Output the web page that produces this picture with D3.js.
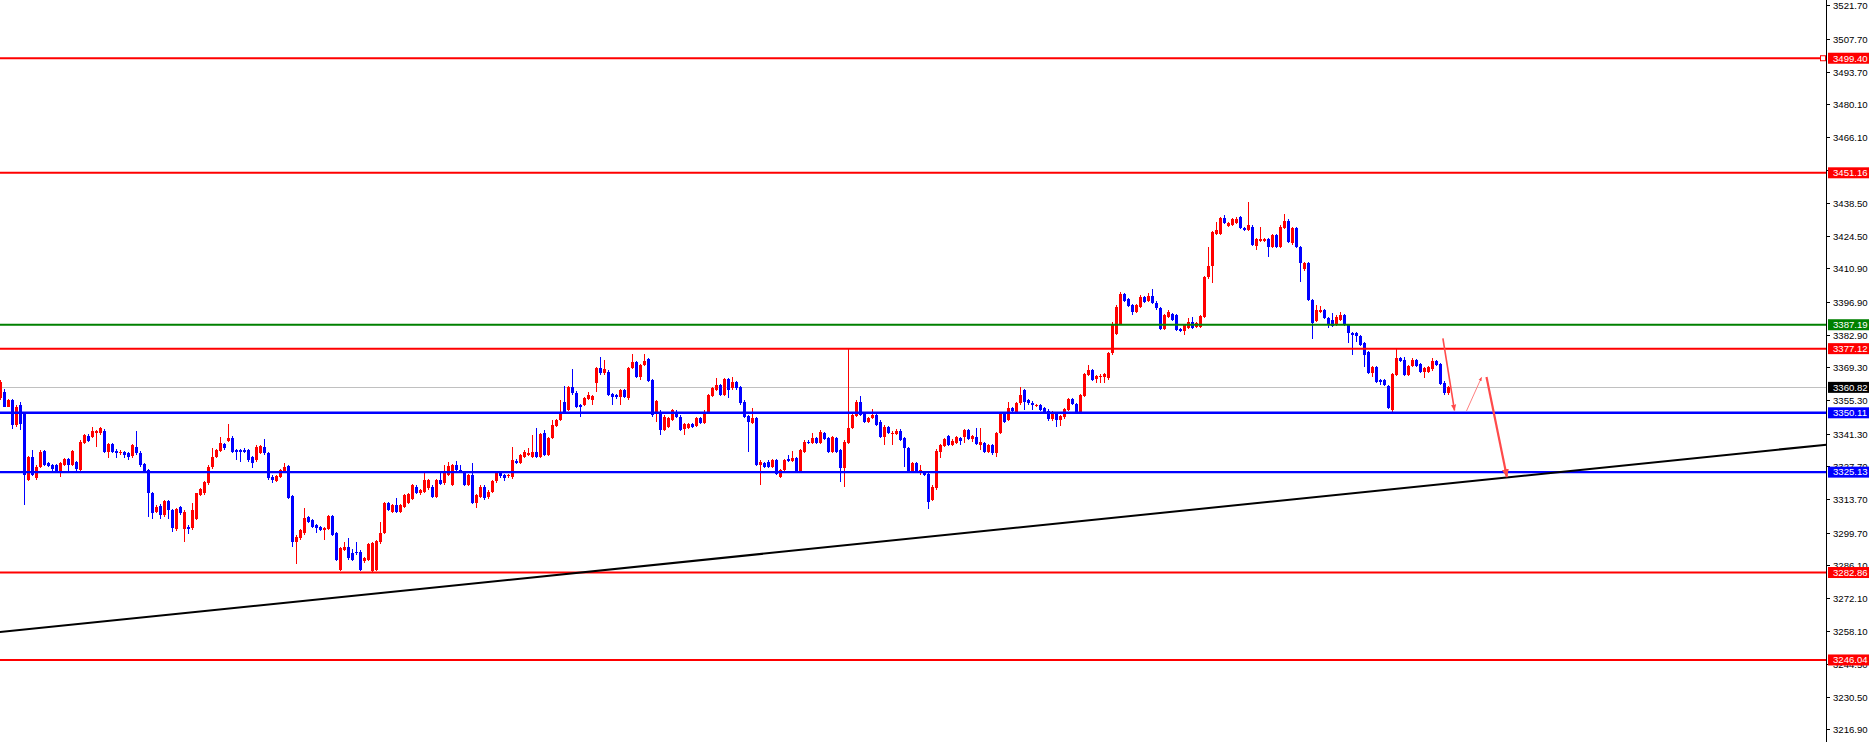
<!DOCTYPE html>
<html><head><meta charset="utf-8">
<script src="https://cdn.jsdelivr.net/npm/d3@7"></script>
<style>html,body{margin:0;padding:0;background:#fff;overflow:hidden}</style>
</head><body>
<svg id="chart" width="1869" height="742"></svg>
<script>
// ---- data (price, one value per bar) ----
const opens=[
3356.2,3359.0,3352.7,3355.5,3344.9,3353.4,3349.9,3321.8,3331.3,3322.5,
3327.4,3334.0,3328.8,3328.1,3328.1,3325.3,3328.1,3330.5,3328.1,3329.5,
3326.0,3337.5,3340.5,3340.0,3341.7,3341.4,3342.6,3333.7,3336.9,3334.2,
3333.0,3333.7,3333.0,3331.9,3335.8,3333.3,3328.5,3326.0,3316.2,3308.5,
3310.9,3307.1,3312.9,3309.2,3301.0,3310.6,3301.0,3302.1,3301.4,3305.6,
3315.5,3316.2,3320.4,3327.1,3331.6,3334.0,3336.9,3338.3,3339.6,3334.4,
3334.4,3334.4,3334.4,3331.6,3330.2,3333.3,3335.8,3333.0,3323.2,3321.5,
3323.2,3325.3,3327.7,3315.1,3295.8,3297.2,3299.3,3306.3,3305.0,3302.8,
3301.9,3300.8,3301.1,3306.7,3299.5,3284.0,3292.4,3293.8,3291.0,3291.7,
3291.7,3287.5,3288.1,3283.3,3284.0,3295.5,3299.7,3312.0,3308.5,3311.3,
3308.5,3310.6,3312.0,3313.7,3319.0,3316.2,3316.9,3318.3,3319.0,3314.8,
3321.9,3320.4,3324.0,3319.7,3328.2,3326.1,3324.7,3319.7,3324.0,3312.0,
3314.8,3319.0,3314.5,3316.9,3321.2,3324.7,3324.0,3323.3,3322.9,3330.0,
3329.1,3331.7,3332.4,3331.7,3333.8,3331.4,3341.5,3332.4,3339.4,3344.6,
3347.1,3354.8,3351.3,3360.8,3358.6,3353.4,3353.4,3355.8,3355.5,3362.5,
3368.8,3366.7,3367.1,3358.0,3357.6,3356.9,3359.7,3356.2,3368.9,3371.6,
3365.3,3370.3,3372.6,3363.9,3350.6,3350.6,3342.9,3344.3,3347.1,3350.6,
3348.5,3343.1,3343.6,3345.4,3344.6,3347.8,3345.7,3350.6,3357.2,3359.7,
3361.8,3357.6,3364.2,3360.4,3363.2,3361.1,3354.8,3348.8,3345.7,3347.8,
3328.1,3329.1,3329.6,3327.4,3330.2,3323.2,3326.0,3330.5,3330.0,3331.0,
3325.4,3333.8,3338.0,3337.3,3339.4,3337.3,3341.5,3339.4,3333.8,3339.4,
3334.5,3326.8,3337.3,3343.6,3348.8,3354.8,3349.9,3346.4,3347.8,3349.2,
3346.4,3339.8,3344.0,3341.2,3341.2,3342.6,3339.4,3335.2,3325.4,3328.8,
3324.6,3325.3,3324.4,3313.4,3318.3,3333.8,3336.2,3340.3,3336.5,3337.5,
3339.4,3339.8,3342.9,3339.0,3340.0,3336.5,3337.5,3333.8,3336.5,3333.0,
3341.5,3349.9,3347.0,3352.2,3350.6,3354.1,3359.7,3355.5,3354.4,3353.0,
3353.4,3352.0,3351.0,3347.3,3349.9,3347.0,3348.2,3351.3,3355.8,3353.8,
3349.9,3357.2,3366.0,3368.1,3364.2,3365.0,3365.3,3364.6,3375.1,3383.3,
3387.7,3400.1,3397.9,3395.5,3392.7,3394.8,3398.7,3397.3,3399.3,3396.5,
3394.3,3385.6,3390.6,3391.7,3391.3,3385.2,3384.7,3385.7,3388.5,3386.4,
3386.4,3390.6,3407.1,3411.9,3425.6,3425.6,3432.0,3428.8,3429.2,3430.2,
3432.4,3428.0,3427.0,3428.5,3420.3,3422.6,3422.6,3423.1,3420.0,3424.9,
3420.0,3427.8,3431.0,3421.4,3427.8,3420.0,3410.5,3413.0,3397.6,3388.9,
3392.7,3393.4,3389.9,3389.2,3387.1,3389.2,3391.3,3387.1,3383.8,3383.6,
3382.4,3379.4,3375.8,3367.0,3369.5,3363.9,3363.9,3361.4,3351.3,3366.0,
3373.0,3372.3,3366.0,3369.8,3372.3,3370.5,3367.4,3367.4,3368.4,3371.9,
3370.7,3362.8,3358.3];
const highs=[
3363.9,3360.0,3355.8,3356.0,3353.4,3354.5,3350.6,3331.9,3334.4,3328.0,
3334.4,3334.4,3329.5,3328.6,3328.6,3329.2,3331.0,3331.0,3334.6,3330.0,
3338.5,3341.3,3341.0,3344.2,3343.0,3344.2,3343.4,3337.5,3337.5,3334.9,
3334.4,3334.2,3333.5,3337.0,3342.4,3333.9,3329.0,3326.5,3316.9,3311.2,
3311.5,3313.5,3313.6,3309.8,3310.0,3311.0,3309.0,3302.7,3312.0,3316.5,
3318.4,3321.6,3328.0,3335.1,3335.0,3340.0,3337.5,3345.6,3340.2,3335.0,
3335.0,3335.1,3335.0,3332.0,3336.4,3336.6,3339.0,3333.5,3323.8,3324.0,
3326.5,3329.1,3328.2,3315.5,3298.5,3301.3,3310.2,3306.8,3305.5,3303.3,
3302.4,3302.0,3307.2,3307.2,3300.0,3293.6,3295.9,3297.2,3292.6,3295.9,
3292.2,3289.3,3295.4,3295.7,3296.7,3304.3,3312.5,3312.5,3311.8,3314.1,
3311.8,3316.0,3316.4,3320.2,3319.5,3318.1,3325.8,3322.4,3319.5,3322.4,
3324.7,3328.2,3329.6,3328.7,3329.9,3328.2,3325.2,3324.5,3328.9,3316.0,
3319.5,3319.5,3317.4,3321.7,3325.4,3325.2,3324.5,3324.5,3335.6,3330.5,
3332.9,3334.3,3335.2,3340.8,3343.6,3341.7,3342.9,3339.9,3347.1,3347.6,
3355.5,3361.4,3361.3,3368.4,3359.1,3353.9,3356.7,3359.0,3357.7,3369.3,
3373.5,3372.3,3368.2,3358.5,3358.1,3360.2,3360.2,3369.4,3374.9,3372.1,
3370.8,3374.9,3373.1,3364.4,3355.6,3351.1,3349.0,3348.3,3351.8,3351.3,
3349.0,3345.9,3345.9,3345.9,3348.3,3348.3,3351.1,3358.1,3360.9,3364.6,
3362.3,3364.7,3364.7,3365.3,3363.7,3361.6,3355.3,3349.3,3352.0,3348.3,
3330.1,3329.6,3330.1,3330.7,3330.7,3326.5,3330.7,3332.4,3334.1,3331.5,
3335.0,3338.5,3338.5,3341.5,3339.9,3342.7,3342.0,3339.9,3340.3,3339.9,
3335.0,3338.5,3377.0,3349.7,3355.3,3357.2,3350.4,3348.3,3351.6,3349.7,
3346.9,3344.8,3344.5,3342.3,3343.1,3343.1,3339.9,3335.7,3329.3,3329.3,
3328.1,3325.8,3324.9,3319.5,3334.7,3337.0,3339.4,3340.8,3338.9,3340.3,
3339.9,3343.4,3343.4,3340.8,3343.6,3343.6,3338.0,3337.0,3337.0,3342.2,
3350.4,3350.4,3354.8,3352.7,3354.6,3361.1,3360.2,3356.0,3354.9,3354.0,
3353.9,3352.5,3351.5,3350.7,3350.4,3349.2,3352.0,3356.3,3356.3,3354.3,
3358.1,3366.8,3370.2,3368.6,3366.2,3366.5,3367.0,3375.6,3388.2,3395.3,
3401.1,3400.6,3398.4,3396.0,3396.0,3399.5,3399.2,3400.4,3402.1,3397.0,
3394.8,3391.8,3393.4,3392.2,3391.8,3385.7,3387.6,3389.9,3390.6,3388.5,
3391.4,3407.9,3420.0,3426.8,3430.6,3432.5,3433.4,3430.4,3432.1,3432.7,
3432.9,3428.5,3438.7,3429.0,3423.6,3428.2,3423.6,3423.6,3425.4,3425.4,
3429.0,3433.8,3431.5,3428.3,3428.3,3420.5,3413.8,3413.5,3398.1,3395.5,
3395.1,3393.9,3390.4,3392.0,3391.1,3392.7,3391.8,3387.6,3384.3,3384.1,
3382.9,3379.9,3376.3,3370.0,3370.0,3364.4,3364.4,3361.9,3366.9,3376.8,
3373.5,3373.7,3370.3,3373.0,3372.8,3371.0,3369.3,3370.0,3373.0,3372.4,
3371.2,3363.3,3361.3];
const lows=[
3355.5,3352.4,3352.4,3343.1,3344.0,3342.8,3311.3,3321.5,3323.5,3321.8,
3327.0,3327.6,3327.4,3325.8,3325.0,3323.2,3327.6,3325.3,3327.6,3325.8,
3325.3,3337.0,3337.8,3339.5,3335.8,3340.8,3333.0,3330.9,3333.0,3330.9,
3332.5,3330.9,3330.2,3331.2,3332.3,3327.4,3324.6,3306.1,3305.4,3307.8,
3305.6,3306.4,3305.6,3300.0,3300.3,3307.0,3295.8,3299.0,3300.7,3305.0,
3315.0,3315.5,3319.8,3326.5,3331.0,3333.5,3334.5,3337.8,3333.0,3330.2,
3329.5,3333.0,3329.6,3326.7,3329.6,3332.8,3332.4,3321.8,3320.4,3321.0,
3322.6,3324.8,3313.8,3293.7,3286.3,3296.6,3298.8,3303.6,3301.6,3299.3,
3300.3,3296.6,3300.6,3298.2,3287.5,3283.4,3291.8,3288.2,3287.6,3290.4,
3283.3,3287.0,3287.6,3282.8,3283.5,3295.0,3299.2,3308.7,3308.0,3308.0,
3308.0,3310.1,3311.5,3313.2,3316.0,3315.7,3316.4,3317.8,3314.3,3314.3,
3319.7,3319.9,3323.5,3319.2,3325.6,3324.9,3319.2,3319.2,3311.5,3309.9,
3314.3,3313.6,3314.0,3316.4,3320.7,3322.8,3321.5,3322.8,3322.4,3328.4,
3328.6,3331.2,3331.9,3331.2,3331.2,3330.9,3331.9,3331.9,3338.9,3344.1,
3346.6,3350.1,3350.8,3357.8,3352.2,3348.5,3352.9,3355.3,3353.4,3359.0,
3366.2,3366.2,3357.1,3353.4,3356.1,3353.4,3356.4,3355.7,3368.4,3364.8,
3363.9,3369.8,3363.1,3348.5,3346.4,3340.8,3342.4,3343.8,3346.6,3348.0,
3342.4,3340.8,3343.1,3343.8,3344.1,3345.2,3345.2,3350.1,3356.7,3359.2,
3357.1,3357.1,3356.2,3359.9,3359.9,3353.6,3348.0,3333.8,3345.2,3327.6,
3319.7,3326.9,3326.9,3326.9,3323.8,3322.7,3325.5,3329.5,3329.5,3324.9,
3324.9,3333.3,3336.8,3336.8,3336.8,3336.8,3338.5,3333.3,3333.3,3333.3,
3321.1,3319.0,3336.8,3343.1,3348.3,3348.7,3345.9,3345.9,3347.3,3344.5,
3339.3,3336.6,3341.0,3336.6,3340.7,3338.2,3327.4,3324.9,3324.9,3324.9,
3324.1,3323.4,3309.6,3312.9,3317.8,3330.9,3335.7,3336.0,3336.0,3337.0,
3336.5,3337.2,3338.5,3338.0,3336.4,3334.4,3333.3,3333.3,3332.5,3331.4,
3341.0,3345.8,3346.5,3350.5,3350.1,3353.6,3351.3,3353.6,3351.3,3352.5,
3350.8,3350.1,3346.8,3346.8,3344.2,3344.5,3347.7,3350.8,3353.3,3349.7,
3349.4,3356.7,3365.5,3363.4,3362.5,3362.5,3362.5,3364.1,3374.4,3382.8,
3387.2,3396.8,3394.6,3391.3,3392.2,3394.3,3396.4,3396.8,3396.0,3393.6,
3385.0,3385.0,3390.1,3388.7,3384.5,3384.2,3382.9,3385.2,3385.2,3385.9,
3385.9,3390.1,3406.6,3404.6,3425.1,3425.1,3429.4,3428.3,3428.7,3429.7,
3427.3,3426.5,3426.5,3420.2,3418.6,3422.1,3422.1,3415.8,3419.5,3419.5,
3419.5,3427.3,3421.6,3420.9,3419.3,3405.3,3410.0,3397.1,3381.0,3388.4,
3392.2,3389.4,3385.7,3386.2,3386.6,3388.7,3386.6,3379.4,3374.4,3380.1,
3378.2,3369.5,3366.5,3365.3,3362.7,3361.8,3361.3,3351.5,3350.6,3365.5,
3371.6,3365.5,3365.5,3369.3,3369.3,3366.9,3364.6,3366.9,3367.9,3369.7,
3361.7,3357.8,3357.6];
const closes=[
3363.2,3352.7,3355.5,3344.9,3352.7,3345.6,3323.9,3331.3,3323.9,3327.4,
3333.7,3328.1,3327.8,3326.4,3325.3,3328.8,3330.5,3328.1,3334.0,3326.4,
3337.9,3340.7,3338.3,3342.4,3342.4,3343.5,3333.7,3336.9,3333.7,3333.3,
3333.7,3332.3,3331.6,3336.5,3333.0,3328.1,3325.3,3316.2,3307.8,3310.6,
3307.1,3312.9,3309.2,3301.4,3309.4,3307.8,3308.5,3301.0,3309.2,3316.2,
3317.9,3321.1,3327.4,3331.3,3334.4,3337.2,3335.1,3339.6,3333.7,3333.7,
3333.5,3333.7,3330.2,3328.8,3335.8,3336.1,3333.0,3322.5,3321.8,3323.5,
3326.0,3327.4,3314.3,3295.8,3297.9,3300.8,3305.9,3304.2,3302.1,3301.4,
3300.8,3301.5,3306.7,3298.7,3288.1,3293.1,3293.8,3288.8,3288.1,3291.0,
3284.0,3288.8,3294.9,3295.2,3296.2,3299.7,3312.0,3309.2,3311.3,3308.5,
3311.3,3315.5,3315.9,3319.7,3316.5,3317.6,3321.9,3321.9,3314.8,3321.9,
3320.2,3324.7,3327.7,3328.2,3326.1,3325.4,3319.7,3324.0,3312.0,3315.5,
3319.0,3314.1,3316.9,3321.2,3324.7,3323.3,3322.6,3324.0,3330.3,3328.9,
3332.4,3333.8,3333.1,3333.8,3331.7,3341.2,3332.4,3339.4,3345.0,3347.1,
3350.6,3350.6,3360.8,3358.3,3352.7,3352.4,3356.2,3357.6,3357.2,3368.8,
3366.7,3368.5,3357.6,3356.9,3356.6,3359.7,3356.9,3368.9,3371.6,3365.3,
3370.3,3372.1,3363.6,3349.2,3355.1,3342.9,3348.5,3347.8,3351.3,3348.5,
3342.9,3345.4,3345.4,3344.3,3347.8,3345.7,3350.6,3357.6,3360.4,3361.8,
3357.6,3364.2,3359.7,3363.2,3360.4,3354.1,3348.5,3346.4,3347.8,3328.1,
3329.6,3327.4,3327.4,3330.2,3324.3,3326.0,3330.2,3330.0,3331.0,3325.4,
3334.5,3338.0,3337.3,3339.4,3337.3,3342.2,3339.0,3333.8,3339.8,3333.8,
3326.8,3338.0,3343.6,3349.2,3354.8,3349.2,3346.4,3347.8,3349.2,3345.0,
3339.8,3344.3,3341.5,3341.8,3342.6,3338.7,3335.2,3325.4,3328.8,3325.4,
3326.0,3323.9,3312.7,3319.0,3334.2,3336.5,3338.9,3336.5,3338.4,3339.8,
3338.4,3342.9,3339.0,3340.3,3336.9,3337.9,3333.8,3336.5,3333.0,3341.7,
3349.9,3346.3,3352.0,3351.0,3354.1,3357.6,3354.8,3354.1,3353.4,3353.4,
3351.3,3350.6,3347.3,3350.2,3347.0,3348.7,3351.5,3355.8,3353.8,3350.2,
3357.6,3366.3,3368.1,3363.9,3365.7,3365.6,3366.3,3375.1,3387.7,3394.8,
3400.0,3397.3,3395.1,3392.7,3395.5,3399.0,3396.9,3399.3,3396.5,3394.1,
3385.6,3391.3,3392.4,3389.2,3385.0,3384.7,3387.1,3388.5,3385.7,3388.0,
3390.9,3407.4,3411.9,3426.3,3427.0,3432.0,3429.9,3429.9,3431.6,3431.6,
3427.8,3427.0,3429.2,3420.7,3423.1,3423.1,3423.1,3420.0,3424.9,3420.0,
3428.5,3431.0,3422.1,3427.8,3419.8,3413.0,3413.3,3397.6,3387.8,3393.4,
3393.4,3389.9,3387.1,3386.7,3390.6,3391.3,3387.1,3383.6,3382.9,3382.4,
3378.7,3374.4,3367.0,3369.5,3363.2,3363.2,3361.8,3352.0,3366.4,3373.0,
3372.1,3366.0,3369.8,3372.3,3369.8,3367.4,3368.8,3369.5,3371.9,3370.2,
3362.2,3358.3,3360.8];

const redLevels   = [3499.40, 3451.16, 3377.12, 3282.86, 3246.04];
const greenLevels = [3387.19];
const blueLevels  = [3350.11, 3325.13];
const bidPrice    = 3360.82;
const markedLevel = 3499.40;
const tickLabels = ["3521.70","3507.70","3493.70","3480.10","3466.10","3452.50","3438.50","3424.50",
  "3410.90","3396.90","3382.90","3369.30","3355.30","3341.30","3327.70","3313.70","3299.70",
  "3286.10","3272.10","3258.10","3244.50","3230.50","3216.90"];
// trend line anchors: [bar index, price]
const trendBars   = [-0.25, 456.5];
const trendPrices = [3257.8, 3336.7];
// forecast path segments: [bar index, price] pairs
const forecastBars   = [[360.6, 363.5], [366.5, 370.25], [371.5, 376.6]];
const forecastPrices = [[3381.4, 3351.1], [3350.9, 3365.0], [3365.2, 3323.1]];

// ---- layout ----
const W = 1869, H = 742, axisX = 1826;
const svg = d3.select("#chart");
const y = d3.scaleLinear().domain([3211.50, 3523.92]).range([H, 0]);
const x = d3.scaleLinear().domain([0, 456.5]).range([0.5, 1826.5]);
const UP = "#ff0000", DOWN = "#0000ff";
const FONT = "'Liberation Sans', Arial, sans-serif";

// bid line (behind candles)
svg.append("line").attr("x1",0).attr("x2",axisX).attr("y1",Math.round(y(bidPrice))+0.5).attr("y2",Math.round(y(bidPrice))+0.5)
  .attr("stroke","#c0c0c0").attr("stroke-width",1);

// candles
const bars = d3.range(opens.length).map(i => ({i, o:opens[i], h:highs[i], l:lows[i], c:closes[i]}));
const g = svg.append("g").attr("shape-rendering","crispEdges");
g.selectAll("line.w").data(bars).join("line").attr("class","w")
  .attr("x1", d => Math.floor(x(d.i)) + 0.5).attr("x2", d => Math.floor(x(d.i)) + 0.5)
  .attr("y1", d => y(d.h)).attr("y2", d => y(d.l))
  .attr("stroke", d => d.c >= d.o ? UP : DOWN).attr("stroke-width",1);
g.selectAll("rect.b").data(bars).join("rect").attr("class","b")
  .attr("x", d => Math.floor(x(d.i)) - 1).attr("width", 3)
  .attr("y", d => y(Math.max(d.o,d.c)))
  .attr("height", d => Math.max(1, Math.abs(y(d.o) - y(d.c))))
  .attr("fill", d => d.c >= d.o ? UP : DOWN);

// horizontal levels
function hline(v, color, w){
  svg.append("line").attr("x1",0).attr("x2",axisX).attr("y1",y(v)).attr("y2",y(v))
    .attr("stroke",color).attr("stroke-width",w);
}
redLevels.forEach(v => hline(v, "#ff0000", 2));
greenLevels.forEach(v => hline(v, "#008000", 2));
blueLevels.forEach(v => hline(v, "#0000ff", 2.4));

// trend line
svg.append("line")
  .attr("x1", x(trendBars[0])).attr("y1", y(trendPrices[0]))
  .attr("x2", x(trendBars[1])).attr("y2", y(trendPrices[1]))
  .attr("stroke","#000").attr("stroke-width",2);

// forecast arrows
const defs = svg.append("defs");
defs.append("marker").attr("id","ah").attr("viewBox","0 0 10 10").attr("refX",9).attr("refY",5)
  .attr("markerWidth",4).attr("markerHeight",4).attr("orient","auto")
  .append("path").attr("d","M0,1 L10,5 L0,9 z").attr("fill","#ff4a4a");
const fw = [1.6, 1.0, 2.2];
forecastBars.forEach((b, k) => {
  svg.append("line")
    .attr("x1", x(b[0])).attr("y1", y(forecastPrices[k][0]))
    .attr("x2", x(b[1])).attr("y2", y(forecastPrices[k][1]))
    .attr("stroke", k === 1 ? "#ff8080" : "#ff4a4a").attr("stroke-width", fw[k])
    .attr("marker-end", "url(#ah)");
});

// right price axis
svg.append("rect").attr("x",axisX+1).attr("y",0).attr("width",W-axisX-1).attr("height",H).attr("fill","#fff");
svg.append("line").attr("x1",axisX+0.5).attr("x2",axisX+0.5).attr("y1",0).attr("y2",H)
  .attr("stroke","#000").attr("stroke-width",1);
const ax = svg.append("g");
tickLabels.forEach(t => {
  const yy = Math.round(y(+t)) + 0.5;
  ax.append("line").attr("x1",axisX).attr("x2",axisX+4).attr("y1",yy).attr("y2",yy).attr("stroke","#000");
  ax.append("text").attr("x",axisX+7).attr("y",yy).attr("dy","0.35em")
    .attr("font-family",FONT).attr("font-size","9.6px").attr("fill","#000").text(t);
});

// level price boxes
function priceBox(v, bg){
  const yy = y(v);
  svg.append("rect").attr("x",axisX+2).attr("y",yy-5.5).attr("width",W-axisX-2).attr("height",11).attr("fill",bg);
  svg.append("text").attr("x",axisX+7).attr("y",yy).attr("dy","0.35em")
    .attr("font-family",FONT).attr("font-size","9.6px").attr("fill","#fff").text(v.toFixed(2));
}
redLevels.forEach(v => priceBox(v, "#ff0000"));
greenLevels.forEach(v => priceBox(v, "#008000"));
blueLevels.forEach(v => priceBox(v, "#0000ff"));
priceBox(bidPrice, "#000000");

// selected-object marker on the top level
svg.append("rect").attr("x",axisX-5.5).attr("y",y(markedLevel)-2.5).attr("width",5).attr("height",5)
  .attr("fill","#fff").attr("stroke","#ff0000").attr("stroke-width",1);
</script>
</body></html>
